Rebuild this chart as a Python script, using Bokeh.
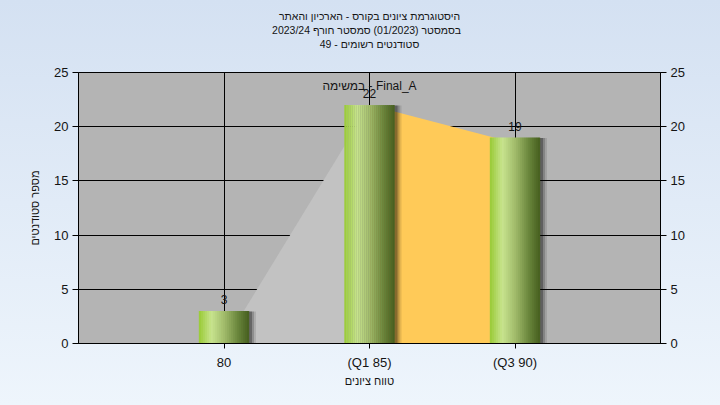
from bokeh.plotting import figure
from bokeh.models import Range1d, FixedTicker, LinearAxis, GlobalInlineStyleSheet, Title
from bokeh.core.properties import value
from bokeh.embed import file_html
from bokeh.resources import INLINE

# ---- data ----
categories = ["80", "(Q1 85)", "(Q3 90)"]
positions = [1, 2, 3]
counts = [3, 22, 19]
area_vals = [0, 22, 18.5]
y_ticks = [0, 5, 10, 15, 20, 25]
title_lines = ["היסטוגרמת ציונים בקורס - הארכיון והאתר",
               "בסמסטר  (01/2023)  סמסטר חורף 2023/24",
               "סטודנטים רשומים - 49"]
series_name = "במשימה - Final_A"
x_title = "טווח ציונים"
y_title = "מספר סטודנטים"

FONT = "Liberation Sans"
TXT = "#141414"

p = figure(width=720, height=405, output_backend="svg", toolbar_location=None,
           x_range=Range1d(0, 4), y_range=Range1d(0, 25),
           min_border_left=78, min_border_right=60, min_border_top=72, min_border_bottom=62)
p.stylesheets = [GlobalInlineStyleSheet(css="html,body{background:linear-gradient(#d4e1f2,#eef5fc);min-height:100%;}")]
p.border_fill_alpha = 0
p.background_fill_color = "#B4B4B4"
p.outline_line_color = "black"
p.outline_line_width = 1


def style_title(t, standoff):
    t.align = "center"
    t.text_font = FONT
    t.text_font_size = "10.5px"
    t.text_font_style = "normal"
    t.text_color = TXT
    t.standoff = standoff


# p.title is drawn outermost; added titles stack outward from the frame
p.title.text = title_lines[0]
style_title(p.title, 0)
spacer = Title(text=".")
style_title(spacer, 13)
spacer.text_alpha = 0.001
p.add_layout(spacer, "above")
t3 = Title(text=title_lines[2])
style_title(t3, 0)
p.add_layout(t3, "above")
t2 = Title(text=title_lines[1])
style_title(t2, 0)
p.add_layout(t2, "above")

# grids
p.xgrid.ticker = FixedTicker(ticks=positions)
p.ygrid.ticker = FixedTicker(ticks=y_ticks)
for g in (p.xgrid, p.ygrid):
    g.grid_line_color = "black"
    g.grid_line_alpha = 1
    g.grid_line_width = 1

# axes
p.xaxis.ticker = FixedTicker(ticks=positions)
p.xaxis.major_label_overrides = {pos: lab for pos, lab in zip(positions, categories)}
p.xaxis.axis_label = x_title
p.yaxis.ticker = FixedTicker(ticks=y_ticks)
p.yaxis.axis_label = y_title
ra = LinearAxis(ticker=FixedTicker(ticks=y_ticks))
p.add_layout(ra, "right")
for ax in (p.xaxis[0], p.yaxis[0], ra):
    ax.axis_line_color = "black"
    ax.major_tick_line_color = "black"
    ax.major_tick_in = 0
    ax.major_tick_out = 6
    ax.minor_tick_line_color = None
    ax.major_label_text_font = FONT
    ax.major_label_text_font_size = "13px"
    ax.major_label_text_color = TXT
    ax.major_label_standoff = 4
    ax.axis_label_text_font = FONT
    ax.axis_label_text_font_size = "11px"
    ax.axis_label_text_font_style = "normal"
    ax.axis_label_text_color = TXT
p.xaxis.major_tick_out = 5
p.xaxis.major_label_standoff = 6
p.xaxis.axis_label_standoff = 2
p.yaxis.axis_label_standoff = 10

# areas
p.patch(x=[positions[0], positions[1], positions[1]],
        y=[area_vals[0], area_vals[1], 0], color="#C2C2C2", line_color=None)
p.patch(x=[positions[1], positions[2], positions[2], positions[1]],
        y=[area_vals[1], area_vals[2], 0, 0], color="#FFCA58", line_color=None)

# bars
bw = 0.344
px = 1 / 145.5
for k, a in [(7, 0.10), (5, 0.18), (3, 0.28)]:
    p.vbar(x=[c + k * px for c in positions], top=[v - 0.05 for v in counts], bottom=-0.25,
           width=bw, color="black", alpha=a, line_color=None)

stops = [(0.0, (0x98, 0xCA, 0x35)), (0.25, (0xC8, 0xE4, 0x8E)), (0.5, (0xA2, 0xBC, 0x6C)),
         (0.78, (0x6A, 0x86, 0x3C)), (1.0, (0x46, 0x5E, 0x1E))]


def interp(t):
    for (t0, c0), (t1, c1) in zip(stops[:-1], stops[1:]):
        if t0 <= t <= t1:
            f = (t - t0) / (t1 - t0)
            return "#%02x%02x%02x" % tuple(int(round(a + (b - a) * f)) for a, b in zip(c0, c1))
    return "#%02x%02x%02x" % stops[-1][1]


n = 25
sw = bw / n
for i in range(n):
    t = (i + 0.5) / n
    off = -bw / 2 + (i + 0.5) * sw
    p.vbar(x=[c + off for c in positions], top=counts, width=sw * 1.15,
           color=interp(t), line_color=None)

# value labels
p.text(x=positions, y=counts, text=[str(v) for v in counts], text_align="center",
       text_baseline="bottom", y_offset=-7, text_font=value(FONT), text_font_size="12px",
       text_color=TXT)
p.text(x=[positions[1]], y=[y_ticks[-1]], text=[series_name], text_align="center",
       text_baseline="top", y_offset=6, text_font=value(FONT), text_font_size="12px",
       text_color=TXT)

open("out.html", "w").write(file_html(p, INLINE))
